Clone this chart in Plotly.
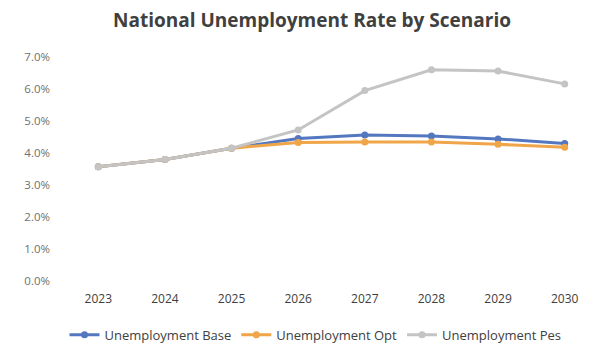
import plotly.graph_objects as go

# Unemployment rate projections (fraction) by scenario
years = [2023, 2024, 2025, 2026, 2027, 2028, 2029, 2030]
unemployment_base = [0.0357, 0.0380, 0.0415, 0.0445, 0.0456, 0.0453, 0.0444, 0.0430]
unemployment_opt = [0.0357, 0.0380, 0.0415, 0.0433, 0.0434, 0.0434, 0.0427, 0.0418]
unemployment_pes = [0.0357, 0.0380, 0.0415, 0.0472, 0.0595, 0.0660, 0.0656, 0.0616]

series = [
    ("Unemployment Base", unemployment_base, "#5478C0"),
    ("Unemployment Opt", unemployment_opt, "#F0A548"),
    ("Unemployment Pes", unemployment_pes, "#C4C4C4"),
]

fig = go.Figure()
for name, vals, color in series:
    fig.add_trace(go.Scatter(
        x=years, y=vals, name=name, mode="lines+markers",
        line=dict(color=color, width=3),
        marker=dict(color=color, size=7, symbol="circle"),
    ))

fig.update_layout(
    width=600, height=347,
    margin=dict(l=65, r=2, t=57, b=66, autoexpand=False),
    paper_bgcolor="white", plot_bgcolor="white",
    font=dict(family="Open Sans, Liberation Sans, sans-serif", color="#595959", size=11),
    title=dict(
        text="<b>National Unemployment Rate by Scenario</b>",
        x=0.52, xanchor="center", y=0.942, yanchor="middle",
        font=dict(size=19, color="#404040", family="Open Sans, sans-serif"),
    ),
    xaxis=dict(
        range=[2022.5, 2030.5], tickmode="array", tickvals=years,
        ticktext=[str(y) for y in years], showgrid=False, zeroline=False,
        showline=False, ticks="", ticklabelstandoff=9,
        tickfont=dict(size=12, color="#404040"),
    ),
    yaxis=dict(
        range=[0, 0.07], dtick=0.01, tickformat=".1%", showgrid=False,
        zeroline=False, showline=False, ticks="", ticklabelstandoff=14,
        tickfont=dict(size=11.5, color="#707070"),
    ),
    legend=dict(
        orientation="h", x=0.47, xanchor="center",
        yref="container", y=0.035, yanchor="middle",
        font=dict(size=13, color="#404040"), itemwidth=30,
        bgcolor="rgba(0,0,0,0)",
    ),
    showlegend=True,
)

fig.write_html("out.html")
